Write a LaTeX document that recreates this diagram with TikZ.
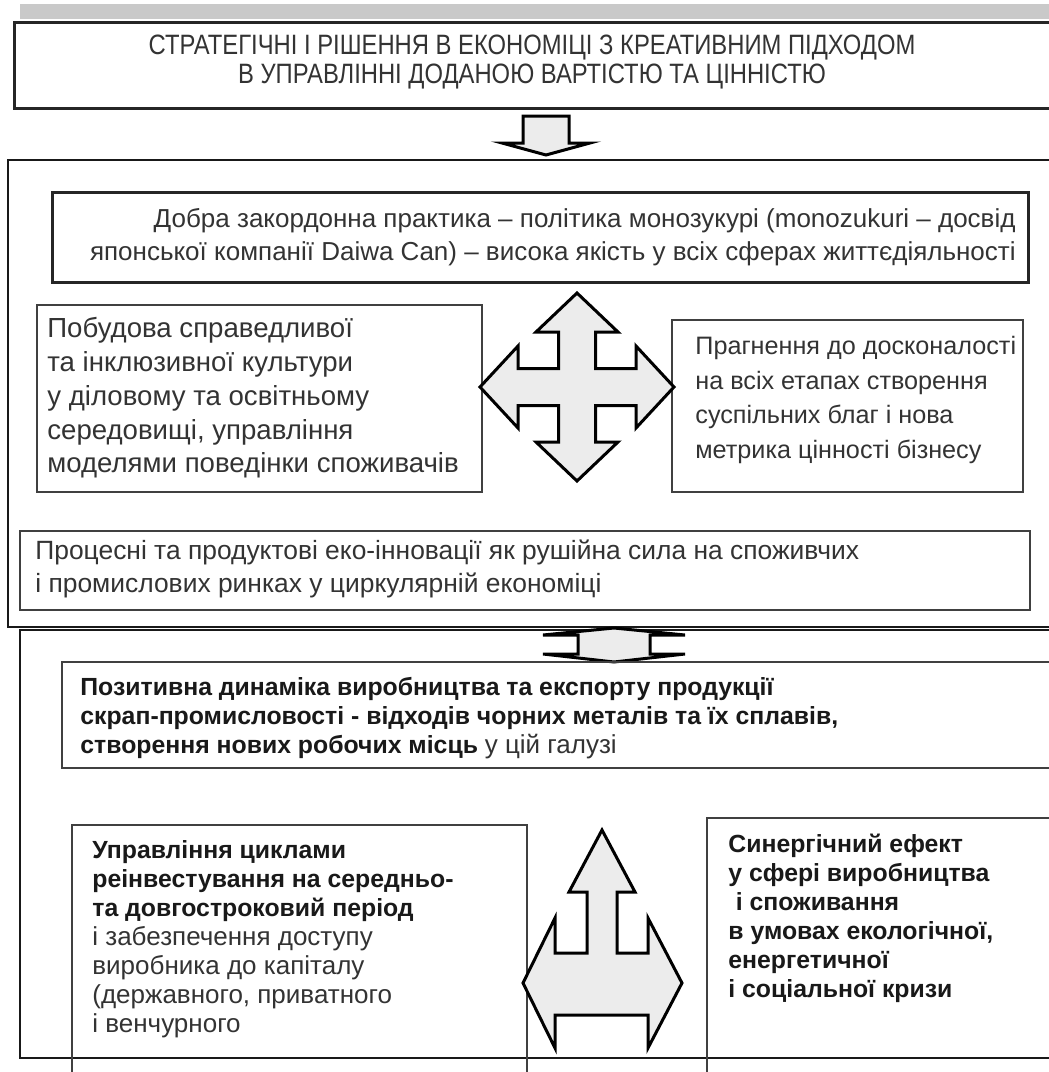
\documentclass[tikz,border=0pt]{standalone}
\usepackage{fontspec}
\setmainfont{Liberation Sans}
\newfontfamily\narrowfont[FakeStretch=0.85]{Liberation Sans}
\definecolor{textgray}{HTML}{333333}
\definecolor{arrowfill}{HTML}{ECECEC}
\definecolor{barfill}{HTML}{C9C9C9}
\newcommand{\regline}{\fontsize{13pt}{14.5pt}\selectfont\mdseries\color{textgray}}

\begin{document}
\begin{tikzpicture}[x=0.5pt, y=-0.5pt,
    frame/.style={draw=black!90, line width=1.2pt},
    heavybox/.style={draw=black!85, line width=1.5pt},
    lightbox/.style={draw=black!75, line width=0.8pt},
    blockarrow/.style={draw=black, line width=1.5pt, fill=arrowfill, line join=miter},
    txt/.style={align=left, anchor=west, inner sep=0pt, text=textgray,
        font=\fontsize{13pt}{16.7pt}\selectfont},
    boldtxt/.style={txt, text=black!90, font=\fontsize{12.4pt}{14.5pt}\selectfont\bfseries}]

    \fill[white] (0,0) rectangle (1049,1072);
    \useasboundingbox (0,0) rectangle (1049,1072);

    % 1. Smuga zverkhu i zaholovok
    \fill[barfill] (20,4) rectangle (1060,19);
    \draw[heavybox] (14,22) rectangle (1062,108);
    \node[txt, anchor=center, align=center, font=\narrowfont\fontsize{14pt}{14.5pt}\selectfont] (title) at (532,62)
        {СТРАТЕГІЧНІ І РІШЕННЯ В ЕКОНОМІЦІ З КРЕАТИВНИМ ПІДХОДОМ\\В УПРАВЛІННІ ДОДАНОЮ ВАРТІСТЮ ТА ЦІННІСТЮ};

    % 2. Strilka vnyz
    \draw[blockarrow] (523,116) -- (569,116) -- (569,143) -- (590,143) -- (546,155)
        -- (502,143) -- (523,143) -- cycle;

    % 3. Verkhnia velyka ramka
    \draw[frame] (8,160) rectangle (1062,627);

    \draw[heavybox] (52,192) rectangle (1028,282);
    \node[txt, anchor=east, align=right] (practice) at (1016,237)
        {Добра закордонна практика – політика монозукурі (monozukuri – досвід\\японської компанії Daiwa Can) – висока якість у всіх сферах життєдіяльності};

    \draw[lightbox] (37,305) rectangle (482,492);
    \node[txt, font=\fontsize{13.8pt}{16.9pt}\selectfont] (culture) at (47,398)
        {Побудова справедливої\\та інклюзивної культури\\у діловому та освітньому\\середовищі, управління\\моделями поведінки споживачів};

    \draw[lightbox] (672,320) rectangle (1023,492);
    \node[txt, font=\fontsize{12.6pt}{17.3pt}\selectfont] (excellence) at (695,400)
        {Прагнення до досконалості\\на всіх етапах створення\\суспільних благ і нова\\метрика цінності бізнесу};

    % 4. Strilka v chotyry boky
    \begin{scope}[shift={(577,387)}]
        \draw[blockarrow] (0,-94) -- (41,-55) -- (18.5,-55) -- (18.5,-18.5) -- (59,-18.5)
            -- (59,-41) -- (97,0) -- (59,41) -- (59,18.5) -- (18.5,18.5) -- (18.5,55)
            -- (41,55) -- (0,94) -- (-41,55) -- (-18.5,55) -- (-18.5,18.5) -- (-59,18.5)
            -- (-59,41) -- (-97,0) -- (-59,-41) -- (-59,-18.5) -- (-18.5,-18.5)
            -- (-18.5,-55) -- (-41,-55) -- cycle;
    \end{scope}

    \draw[lightbox] (20,531) rectangle (1030,610);
    \node[txt, font=\fontsize{13.2pt}{16.7pt}\selectfont] (ecoinnov) at (35,569)
        {Процесні та продуктові еко-інновації як рушійна сила на споживчих\\і промислових ринках у циркулярній економіці};

    % 5. Nyzhnia velyka ramka i podvijna strilka
    \draw[frame] (20,630) rectangle (1062,1058);
    \draw[blockarrow] (614,628) -- (685,635) -- (650,635) -- (650,654) -- (685,654)
        -- (614,662) -- (543,654) -- (578,654) -- (578,635) -- (543,635) -- cycle;

    \draw[lightbox] (62,662) rectangle (1062,768);
    \node[boldtxt] (scrap) at (80,718)
        {\bfseries Позитивна динаміка виробництва та експорту продукції\\
         \bfseries скрап-промисловості - відходів чорних металів та їх сплавів,\\
         \bfseries створення нових робочих місць {\regline у цій галузі}};

    % 6. Nyzhni bloky
    \draw[lightbox] (72,825) rectangle (527,1090);
    \node[boldtxt] (reinvest) at (92,939)
        {\bfseries Управління циклами\\\bfseries реінвестування на середньо-\\\bfseries та довгостроковий період\\
         \regline і забезпечення доступу\\\regline виробника до капіталу\\\regline (державного, приватного\\\regline і венчурного};

    \draw[lightbox] (707,818) rectangle (1062,1090);
    \node[boldtxt] (synergy) at (728,918)
        {\bfseries Синергічний ефект\\\bfseries у сфері виробництва\\\bfseries\hspace*{0.3em}і споживання\\
         \bfseries в умовах екологічної,\\\bfseries енергетичної\\\bfseries і соціальної кризи};

    % 7. Strilka vgoru i v boky
    \draw[blockarrow] (602,830) -- (635,892) -- (617,892) -- (617,953) -- (648,953)
        -- (648,918) -- (682,983) -- (648,1048) -- (648,1015) -- (555,1015) -- (555,1048)
        -- (523,983) -- (555,918) -- (555,953) -- (587,953) -- (587,892) -- (569,892) -- cycle;

\end{tikzpicture}
\end{document}
